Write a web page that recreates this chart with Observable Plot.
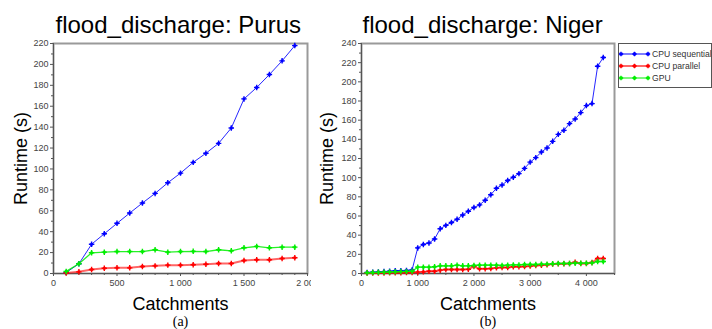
<!DOCTYPE html>
<html><head><meta charset="utf-8">
<script src="https://cdn.jsdelivr.net/npm/d3@7"></script>
<script src="https://cdn.jsdelivr.net/npm/@observablehq/plot@0.6"></script>
<style>
body{margin:0;background:#fff;}
#wrap{position:relative;width:712px;height:329px;overflow:hidden;font-family:"Liberation Sans",Arial,sans-serif;}
#wrap > svg{position:absolute;top:0;overflow:hidden;}
#legend{position:absolute;left:618px;top:43px;width:92px;height:43px;border:1px solid #555;background:#fff;}
</style></head><body><div id="wrap"></div>
<script>
// ---- Data ----
const seriesNames = ["CPU sequential", "CPU parallel", "GPU"];
const seriesColors = ["#0000ff", "#ff0000", "#00ee00"];

const purusCatchments = [100,200,300,400,500,600,700,800,900,1000,1100,1200,1300,1400,1500,1600,1700,1800,1900];
const purusSeq = [1,9.3,28,38,48,57.8,67.4,76.6,86.8,96,106.3,115,124.5,139.2,167,177.9,190.3,203.4,218];
const purusPar = [0.5,1.6,3.8,5,5.4,5.4,6.7,7.3,8,8,8.4,8.9,9.6,9.6,12.4,13.1,13.1,14.4,15];
const purusGpu = [2,9.3,19.8,20.4,21,21,21,22.7,20.4,21,21.2,21,22.7,21.7,24.6,25.9,24.6,25.2,25.2];

const nigerCatchments = [100,200,300,400,500,600,700,800,900,1000,1100,1200,1300,1400,1500,1600,1700,1800,1900,2000,2100,2200,2300,2400,2500,2600,2700,2800,2900,3000,3100,3200,3300,3400,3500,3600,3700,3800,3900,4000,4100,4200,4300];
const nigerSeq = [1,1.4,1.7,2,2.4,2.8,2.8,3.1,3.8, 26.7,30.3,31.8,36,46.7,50.2,53.2,56.6,61,65,68.8, 71.6,76.5,82.2,89,92.3,97,100.5,104.2,109.7,116.2, 120.9,126.8,131,137.9,145.2,149.4,156.4,161.2,167.9,175.2,177.3,216.3,225.4];
const nigerPar = [0.5,0.5,0.6,0.6,0.7,0.8,0.8,0.9,1.0, 1.4,1.7,2.4,2.4,3.5,4.2,4.2,4.2,4.2,4.5,7.3, 4.9,4.9,5.2,5.9,6.3,6.3,7,7,7.3,7.7, 8.4,8.7,9,9.8,10.1,10.1,10.5,11.8,10.5,10.5,11.5,15.7,15.7];
const nigerGpu = [0.8,1,1.2,1.4,1.6,1.8,2,2.2,2.4, 6.6,6.6,6.6,7,8,8,8,8.7,8,8,8.4, 8.7,8.7,8.7,8.7,8.4,8.7,9,9,9.4,9.4, 9.4,9.8,9.8,10.1,10.5,10.5,10.5,10.8,10.8,10.8,11.1,12.5,12.5];

const purusXTicks = [0,500,1000,1500,2000];
const purusXMinor = [100,200,300,400,600,700,800,900,1100,1200,1300,1400,1600,1700,1800,1900];
const purusYTicks = [0,20,40,60,80,100,120,140,160,180,200,220];
const nigerXTicks = [0,1000,2000,3000,4000];
const nigerXMinor = [500,1500,2500,3500,4500];
const nigerYTicks = [0,20,40,60,80,100,120,140,160,180,200,220,240];

// ---- helpers ----
const fmt = d => d3.format(",")(d).replace(/,/g, " ");
function longData(xs, cols) {
  const out = [];
  cols.forEach((vals, i) => vals.forEach((v, j) => out.push({series: seriesNames[i], x: xs[j], y: v})));
  return out;
}
function minorsOf(ticks) {
  const m = [];
  for (let i = 0; i < ticks.length - 1; i++) m.push((ticks[i] + ticks[i+1]) / 2);
  return m;
}

function panel({width, marginLeft, marginRight, xMax, yMax, xTicks, xMinor, yTicks, data, title, caption, yLabelDx, titleDx}) {
  const lineWidth = {"CPU sequential": 1, "CPU parallel": 2, "GPU": 1.3};
  const marks = [
    Plot.frame({stroke: "#9a9a9a", strokeWidth: 2}),
    Plot.ruleY([0], {stroke: "#555"}),
    Plot.ruleX([0], {stroke: "#555"}),
    Plot.axisY(yTicks, {tickSize: 3, tickPadding: 2, fontSize: 9, fill: "#444", stroke: "#555", label: null}),
    Plot.axisY(minorsOf(yTicks), {tickSize: 2, stroke: "#555", tickFormat: () => "", label: null}),
    Plot.axisX(xTicks, {tickSize: 3, tickPadding: 3, fontSize: 9, fill: "#444", stroke: "#555", tickFormat: fmt, label: null}),
    Plot.axisX(xMinor, {tickSize: 2, stroke: "#555", tickFormat: () => "", label: null}),
  ];
  for (const s of seriesNames) {
    const d = data.filter(r => r.series === s);
    const c = seriesColors[seriesNames.indexOf(s)];
    marks.push(Plot.line(d, {x: "x", y: "y", stroke: c, strokeWidth: lineWidth[s], strokeOpacity: s === "CPU parallel" ? 0.6 : 0.85}));
    marks.push(Plot.dot(d, {x: "x", y: "y", symbol: "square", r: 1.5, fill: c}));
    marks.push(Plot.dot(d, {x: "x", y: "y", symbol: "plus", r: 1.9, stroke: c, strokeWidth: 1.4}));
  }
  marks.push(
    Plot.text([title], {text: d => d, frameAnchor: "top-left", dx: titleDx, dy: -11, textAnchor: "start", lineAnchor: "bottom", fontSize: 24, fill: "#000"}),
    Plot.text(["Runtime (s)"], {text: d => d, frameAnchor: "left", dx: yLabelDx, rotate: -90, textAnchor: "middle", lineAnchor: "middle", fontSize: 18, fill: "#000"}),
    Plot.text(["Catchments"], {text: d => d, frameAnchor: "bottom", dy: 36, textAnchor: "middle", lineAnchor: "bottom", fontSize: 18, fill: "#000"}),
    Plot.text([caption], {text: d => d, frameAnchor: "bottom", dy: 52, textAnchor: "middle", lineAnchor: "bottom", fontSize: 14, fontFamily: "Liberation Serif", fill: "#000"})
  );
  return Plot.plot({
    width, height: 329, marginLeft, marginRight, marginTop: 43, marginBottom: 56,
    x: {domain: [0, xMax]},
    y: {domain: [0, yMax]},
    style: {fontFamily: "Liberation Sans, Arial, sans-serif", background: "transparent", overflow: "hidden"},
    marks
  });
}

const wrap = document.getElementById("wrap");
const left = panel({
  width: 311, marginLeft: 53, marginRight: 4, xMax: 2000, yMax: 220,
  xTicks: purusXTicks, xMinor: purusXMinor, yTicks: purusYTicks,
  data: longData(purusCatchments, [purusSeq, purusPar, purusGpu]),
  title: "flood_discharge: Purus", caption: "(a)", yLabelDx: -32, titleDx: 2
});
left.style.left = "0px";
wrap.appendChild(left);

const right = panel({
  width: 401, marginLeft: 50, marginRight: 98, xMax: 4500, yMax: 240,
  xTicks: nigerXTicks, xMinor: nigerXMinor, yTicks: nigerYTicks,
  data: longData(nigerCatchments, [nigerSeq, nigerPar, nigerGpu]),
  title: "flood_discharge: Niger", caption: "(b)", yLabelDx: -34, titleDx: 1
});
right.style.left = "311px";
wrap.appendChild(right);

// ---- legend ----
const leg = document.createElement("div");
leg.id = "legend";
wrap.appendChild(leg);
const ls = d3.select(leg).append("svg").attr("width", 92).attr("height", 43).style("display", "block");
seriesNames.forEach((s, i) => {
  const y = 10 + i * 12;
  const c = seriesColors[i];
  const g = ls.append("g");
  g.append("line").attr("x1", 2).attr("x2", 29).attr("y1", y).attr("y2", y)
    .attr("stroke", c).attr("stroke-width", i === 1 ? 2 : 1.2).attr("stroke-opacity", i === 1 ? 0.6 : 0.85);
  [2, 15.5, 29].forEach(x => {
    g.append("rect").attr("x", x - 1.5).attr("y", y - 1.5).attr("width", 3).attr("height", 3).attr("fill", c);
    g.append("path").attr("d", `M${x-2.2},${y}H${x+2.2}M${x},${y-2.2}V${y+2.2}`).attr("stroke", c).attr("stroke-width", 1.3);
  });
  g.append("text").attr("x", 33).attr("y", y + 3.2).attr("font-size", 8.6).attr("fill", "#333")
    .attr("font-family", "Liberation Sans, Arial, sans-serif").text(s);
});
</script></body></html>
